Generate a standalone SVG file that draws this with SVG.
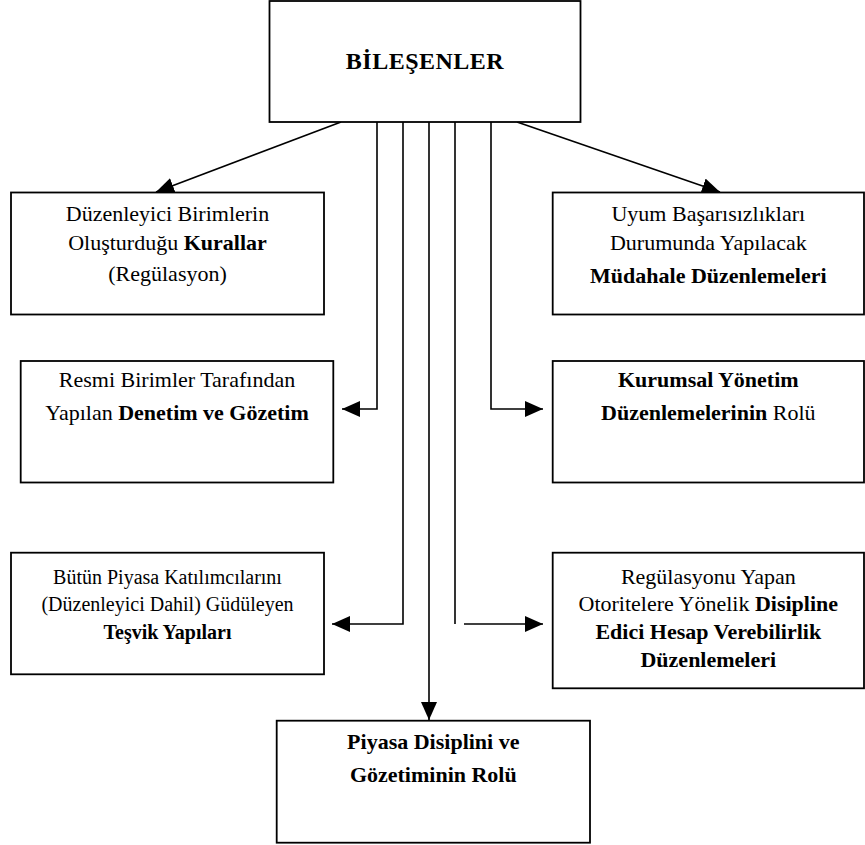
<svg xmlns="http://www.w3.org/2000/svg" width="865" height="845" viewBox="0 0 865 845">
<style>
.box{fill:#fff;stroke:#000;stroke-width:1.8}
.c{fill:none;stroke:#000;stroke-width:1.6}
</style>
<defs>
<marker id="ah" markerUnits="userSpaceOnUse" markerWidth="20" markerHeight="16" refX="18" refY="8" orient="auto">
<path d="M0,0 L18,8 L0,16 Z" fill="#000"/>
</marker>
</defs>
<g id="connectors">
<path class="c" d="M341,122 L156,192" marker-end="url(#ah)"/>
<path class="c" d="M517,122 L720,192" marker-end="url(#ah)"/>
<path class="c" d="M377,122 V409 H342" marker-end="url(#ah)"/>
<path class="c" d="M403,122 V624 H332" marker-end="url(#ah)"/>
<path class="c" d="M429,122 V720" marker-end="url(#ah)"/>
<path class="c" d="M455,122 V624"/>
<path class="c" d="M464,624 H543" marker-end="url(#ah)"/>
<path class="c" d="M491,122 V409 H543" marker-end="url(#ah)"/>
</g>
<g font-family="Liberation Serif, serif" font-size="22" text-anchor="middle" fill="#000">
<g id="bilesenler">
<rect class="box" x="269.5" y="1" width="311" height="121"/>
<text x="425" y="69" font-weight="bold" font-size="24" letter-spacing="0.5">BİLEŞENLER</text>
</g>
<g id="kurallar">
<rect class="box" x="11" y="192.5" width="313" height="122"/>
<text x="167.5" y="221">Düzenleyici Birimlerin</text>
<text x="167.5" y="250">Oluşturduğu <tspan font-weight="bold">Kurallar</tspan></text>
<text x="167.5" y="281">(Regülasyon)</text>
</g>
<g id="denetim">
<rect class="box" x="20.7" y="361" width="312.6" height="121.5"/>
<text x="177" y="387">Resmi Birimler Tarafından</text>
<text x="177" y="420">Yapılan <tspan font-weight="bold">Denetim ve Gözetim</tspan></text>
</g>
<g id="tesvik" font-size="20">
<rect class="box" x="11" y="552.7" width="313" height="121.6"/>
<text x="167.5" y="584">Bütün Piyasa Katılımcılarını</text>
<text x="167.5" y="611">(Düzenleyici Dahil) Güdüleyen</text>
<text x="167.5" y="639" font-weight="bold">Teşvik Yapıları</text>
</g>
<g id="mudahale">
<rect class="box" x="552.7" y="192.5" width="311.3" height="122"/>
<text x="708.3" y="221">Uyum Başarısızlıkları</text>
<text x="708.3" y="250">Durumunda Yapılacak</text>
<text x="708.3" y="283" font-weight="bold">Müdahale Düzenlemeleri</text>
</g>
<g id="kurumsal">
<rect class="box" x="552.7" y="361" width="311.3" height="121.5"/>
<text x="708.3" y="387" font-weight="bold">Kurumsal Yönetim</text>
<text x="708.3" y="420"><tspan font-weight="bold">Düzenlemelerinin</tspan> Rolü</text>
</g>
<g id="hesap">
<rect class="box" x="552.7" y="552.7" width="311.3" height="135.6"/>
<text x="708.3" y="584">Regülasyonu Yapan</text>
<text x="708.3" y="611">Otoritelere Yönelik <tspan font-weight="bold">Disipline</tspan></text>
<text x="708.3" y="639" font-weight="bold">Edici Hesap Verebilirlik</text>
<text x="708.3" y="667" font-weight="bold">Düzenlemeleri</text>
</g>
<g id="piyasa">
<rect class="box" x="276.7" y="720.7" width="313.3" height="122"/>
<text x="433.3" y="749" font-weight="bold">Piyasa Disiplini ve</text>
<text x="433.3" y="782" font-weight="bold">Gözetiminin Rolü</text>
</g>
</g>
</svg>
